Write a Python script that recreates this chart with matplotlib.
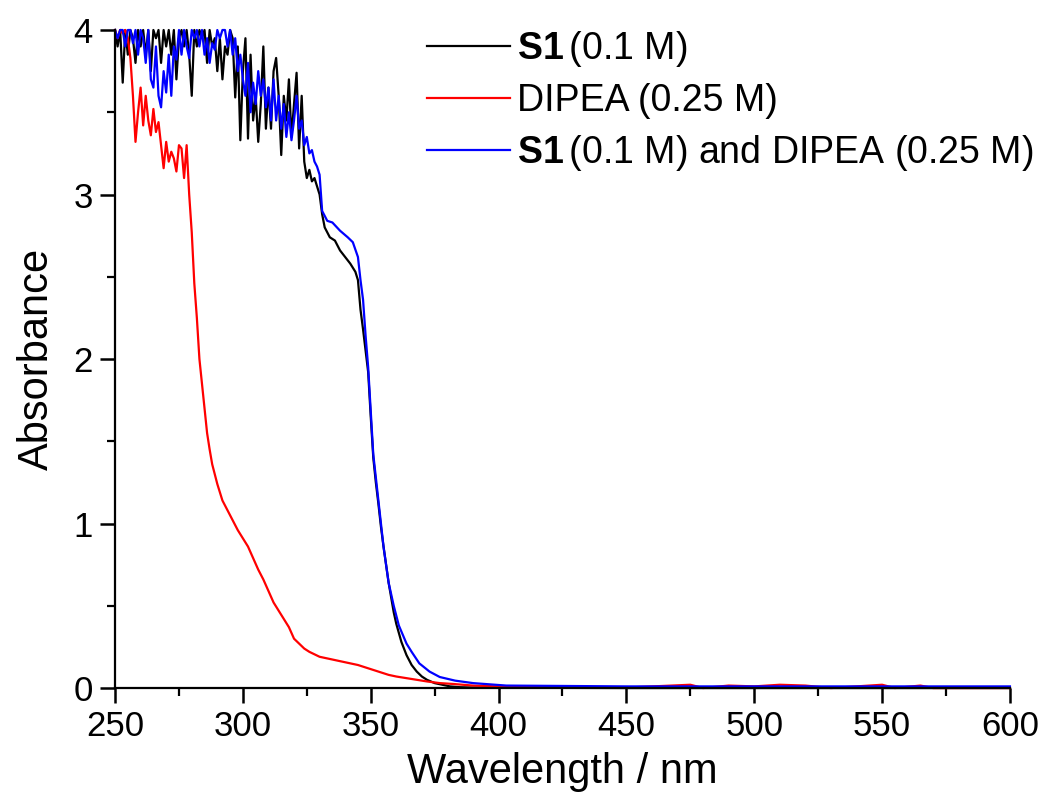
import matplotlib
matplotlib.use("Agg")
import matplotlib.pyplot as plt
from matplotlib.ticker import MultipleLocator

plt.rcParams['font.family'] = ['Liberation Sans', 'DejaVu Sans']
plt.rcParams['mathtext.fontset'] = 'custom'
plt.rcParams['mathtext.rm'] = 'Liberation Sans'
plt.rcParams['mathtext.bf'] = 'Liberation Sans:bold'

# S1 (0.1 M)
wl_s1 = list(range(250, 331)) + [331, 332, 333, 334, 336, 338, 340, 342, 344, 345,
                                 346, 347, 348, 349, 350, 351, 352, 353, 354, 355,
                                 356, 357, 358, 359, 360, 362, 364, 366, 368, 370,
                                 372, 375, 378, 381, 385, 390, 400, 450, 500, 550, 600]
abs_s1 = [4.0, 3.9, 4.0, 3.68, 4.0, 3.85, 4.0, 3.95, 3.8, 4.0,
          3.9, 4.0, 3.85, 4.0, 3.75, 4.0, 3.95, 4.0, 3.8, 4.0,
          3.9, 4.0, 3.85, 4.0, 3.7, 3.95, 4.0, 3.9, 4.0, 3.85,
          3.6, 4.0, 3.9, 4.0, 3.95, 4.0, 3.8, 4.0, 3.9, 3.95,
          3.75, 3.95, 3.7, 3.9, 3.85, 4.0, 3.95, 3.59, 3.9, 3.33,
          3.75, 3.95, 3.34, 3.85, 3.45, 3.6, 3.32, 3.55, 3.9, 3.4,
          3.65, 3.4, 3.75, 3.83, 3.6, 3.24, 3.6, 3.45, 3.7, 3.35,
          3.55, 3.74, 3.28, 3.6, 3.2, 3.1, 3.15, 3.08, 3.1, 3.05,
          3.0,
          2.88, 2.8, 2.77, 2.74, 2.72, 2.66, 2.62, 2.58, 2.53, 2.48,
          2.30, 2.18, 2.05, 1.92, 1.65, 1.40, 1.25, 1.12, 0.98, 0.86,
          0.75, 0.64, 0.55, 0.46, 0.39, 0.28, 0.20, 0.14, 0.10, 0.07,
          0.05, 0.03, 0.02, 0.01, 0.005, 0.003, 0.002, 0.0, 0.0, 0.0, 0.0]

# DIPEA (0.25 M)
wl_dipea = list(range(250, 289)) + [290, 292, 294, 296, 298, 300, 302, 304, 306, 308,
                                    310, 312, 314, 316, 318, 320, 322, 324, 326, 328,
                                    330, 333, 336, 339, 342, 345, 348, 351, 354, 357,
                                    360, 364, 368, 372, 377, 382, 390, 400, 420, 450,
                                    475, 480, 490, 500, 510, 520, 530, 550, 555, 565,
                                    570, 600]
abs_dipea = [4.0, 3.95, 4.0, 3.98, 4.0, 3.95, 3.83, 3.6, 3.32, 3.5,
             3.65, 3.42, 3.6, 3.45, 3.36, 3.52, 3.38, 3.44, 3.3, 3.16,
             3.32, 3.2, 3.26, 3.22, 3.14, 3.3, 3.28, 3.1, 3.3, 3.0,
             2.77, 2.46, 2.25, 2.0, 1.85, 1.7, 1.55, 1.45, 1.36,
             1.24, 1.14, 1.08, 1.02, 0.96, 0.91, 0.86, 0.79, 0.72, 0.66,
             0.59, 0.52, 0.47, 0.42, 0.37, 0.30, 0.27, 0.24, 0.22, 0.205,
             0.19, 0.18, 0.17, 0.16, 0.15, 0.14, 0.125, 0.11, 0.095, 0.08,
             0.07, 0.06, 0.05, 0.04, 0.03, 0.025, 0.015, 0.01, 0.005, 0.003,
             0.02, 0.0, 0.015, 0.01, 0.02, 0.015, 0.0, 0.02, 0.0, 0.015,
             0.0, 0.0]

# S1 (0.1 M) and DIPEA (0.25 M)
wl_mix = list(range(250, 329)) + [329, 330, 331, 333, 335, 338, 341, 343, 345, 346,
                                  347, 348, 349, 351, 353, 355, 357, 359, 361, 364,
                                  366, 369, 373, 377, 383, 390, 403, 450, 500, 550, 600]
abs_mix = [4.0, 3.95, 4.0, 4.0, 3.9, 4.0, 4.0, 3.92, 4.0, 3.85,
           4.0, 3.95, 3.8, 4.0, 3.7, 3.65, 3.9, 3.6, 3.53, 3.75,
           3.62, 3.85, 3.6, 3.9, 3.82, 4.0, 3.85, 4.0, 3.9, 3.83,
           4.0, 3.95, 4.0, 3.9, 4.0, 3.85, 3.95, 3.8, 3.92, 3.88,
           4.0, 3.95, 4.0, 4.0, 3.9, 4.0, 3.85, 3.95, 3.75, 3.85,
           3.7, 3.6, 3.8, 3.5, 3.68, 3.55, 3.75, 3.6, 3.7, 3.53,
           3.65, 3.45, 3.7, 3.45, 3.6, 3.4, 3.55, 3.35, 3.5, 3.33,
           3.45, 3.6, 3.4, 3.45, 3.3, 3.35, 3.25, 3.27, 3.2,
           3.17, 3.12, 2.9, 2.84, 2.83, 2.78, 2.74, 2.71, 2.62, 2.48,
           2.36, 2.14, 1.95, 1.42, 1.14, 0.86, 0.64, 0.5, 0.38, 0.27,
           0.22, 0.15, 0.1, 0.067, 0.045, 0.03, 0.015, 0.01, 0.01, 0.01, 0.01]

fig = plt.figure(figsize=(10.43, 7.98), dpi=100)
ax = fig.add_axes([0.1103, 0.1378, 0.858, 0.8246])

ax.plot(wl_s1, abs_s1, color='black', lw=1.6, clip_on=False, label=r'$\mathbf{S1}\,$(0.1 M)')
ax.plot(wl_dipea, abs_dipea, color='red', lw=1.6, clip_on=False, label='DIPEA (0.25 M)')
ax.plot(wl_mix, abs_mix, color='blue', lw=1.6, clip_on=False,
        label=r'$\mathbf{S1}\,$(0.1 M) and DIPEA (0.25 M)')

ax.set_xlim(250, 600)
ax.set_ylim(0, 4)
ax.xaxis.set_major_locator(MultipleLocator(50))
ax.xaxis.set_minor_locator(MultipleLocator(25))
ax.yaxis.set_major_locator(MultipleLocator(1))
ax.yaxis.set_minor_locator(MultipleLocator(0.5))

for side in ['top', 'right']:
    ax.spines[side].set_visible(False)
for side in ['left', 'bottom']:
    ax.spines[side].set_linewidth(1.6)

ax.tick_params(which='major', direction='out', length=11, width=1.8, labelsize=25, pad=5)
ax.tick_params(which='minor', direction='out', length=6, width=1.6)

ax.set_xlabel('Wavelength / nm', fontsize=30, labelpad=6)
ax.set_ylabel('Absorbance', fontsize=30, labelpad=12)

ax.legend(loc='upper right', bbox_to_anchor=(1.064, 1.053), frameon=False, fontsize=27,
          handlelength=2.2, handletextpad=0.2, labelspacing=0.38)

fig.savefig('out.png', dpi=100)
